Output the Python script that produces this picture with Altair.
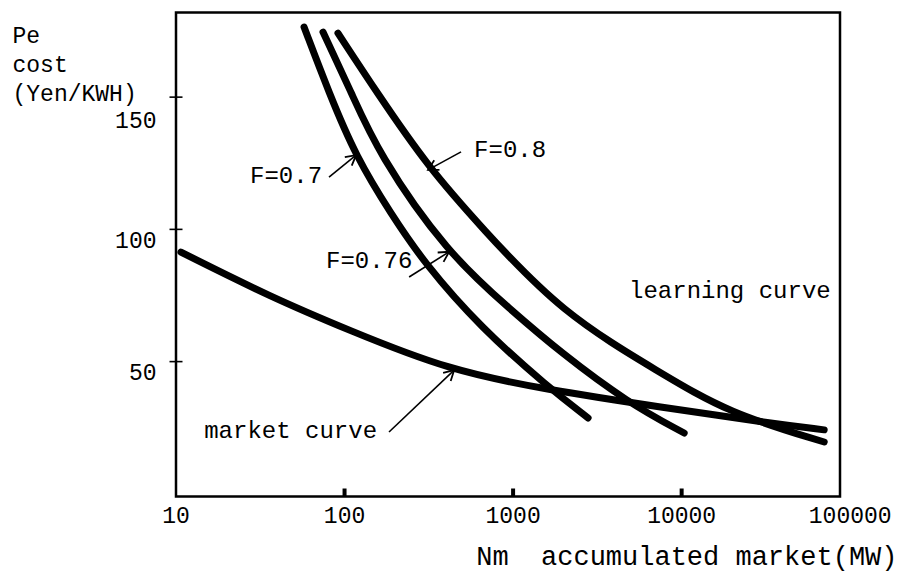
import math
import altair as alt
import pandas as pd

FONT = "Liberation Mono"

# scale ranges (log x, linear y)
X_MIN, X_MAX = 10, 87000
Y_MIN, Y_MAX = -1, 182
PLOT_W, PLOT_H = 664, 484

x_label_values = [10, 100, 1000, 10000, 100000]
x_tick_marks = [100, 1000, 10000]
y_tick_values = [50, 100, 150]

# learning curves and market curve
f07_x = [57.5, 80.9, 117, 189, 296.6, 646, 1614, 2786]
f07_y = [176.5, 151.6, 127.4, 105.8, 87.3, 62.7, 40.4, 28.7]

f076_x = [74.5, 110, 158, 405, 973, 1928, 4820, 10350]
f076_y = [174.6, 151.6, 128.9, 91.1, 69.5, 53.3, 34.4, 23.0]

f08_x = [91.4, 156, 313, 646, 1928, 7550, 18900, 70100]
f08_y = [174.2, 151.6, 123.6, 100.9, 68.4, 45.7, 30.6, 19.6]

market_x = [10.7, 36.6, 105, 411, 1614, 7550, 29650, 70100]
market_y = [91.4, 74.4, 62.0, 46.8, 39.3, 32.8, 27.2, 24.2]

# annotations
ann_labels = ["F=0.7", "F=0.8", "F=0.76", "market curve", "learning curve"]
ann_x = [27.5, 587, 77.6, 14.7, 4875]
ann_y = [117.5, 127.4, 85.4, 21.1, 74.1]

arrow_tail_x = [80.9, 491, 241.6, 183.6]
arrow_tail_y = [119.8, 129.3, 82.0, 23.4]
arrow_head_x = [117, 313, 417, 447]
arrow_head_y = [128.1, 122.5, 91.5, 46.8]

rows = []
for name, xs, ys in [("F=0.7", f07_x, f07_y), ("F=0.76", f076_x, f076_y),
                     ("F=0.8", f08_x, f08_y), ("market", market_x, market_y)]:
    for a, b in zip(xs, ys):
        rows.append({"series": name, "x": a, "y": b})
curves = pd.DataFrame(rows)


def to_px(x, y):
    lx = (math.log10(x) - math.log10(X_MIN)) / (math.log10(X_MAX) - math.log10(X_MIN)) * PLOT_W
    ly = (Y_MAX - y) / (Y_MAX - Y_MIN) * PLOT_H
    return lx, ly


angles = []
for tx, ty, hx, hy in zip(arrow_tail_x, arrow_tail_y, arrow_head_x, arrow_head_y):
    p1 = to_px(tx, ty)
    p2 = to_px(hx, hy)
    angles.append(math.degrees(math.atan2(p2[1] - p1[1], p2[0] - p1[0])) % 360)

arrows = pd.DataFrame({"x": arrow_tail_x, "y": arrow_tail_y,
                       "x2": arrow_head_x, "y2": arrow_head_y, "angle": angles})
heads = pd.DataFrame({"x": arrow_head_x, "y": arrow_head_y, "angle": angles})
ann = pd.DataFrame({"x": ann_x, "y": ann_y, "label": ann_labels})
xlab = pd.DataFrame({"x": x_label_values, "y": [Y_MIN] * len(x_label_values),
                     "label": [str(v) for v in x_label_values]})
xticks = pd.DataFrame({"x": x_tick_marks, "y": [Y_MIN] * len(x_tick_marks)})
yticks = pd.DataFrame({"x": [X_MIN] * len(y_tick_values), "y": y_tick_values})

xscale = alt.Scale(type="log", domain=[X_MIN, X_MAX], nice=False)
yscale = alt.Scale(domain=[Y_MIN, Y_MAX], nice=False, zero=False)

x_axis = alt.Axis(
    labels=False, ticks=False, domain=False, grid=False,
    title="Nm\u00a0\u00a0accumulated market(MW)",
    titleFont=FONT, titleFontSize=27, titleFontWeight="normal", titleColor="black",
    titleAlign="right", titleBaseline="alphabetic", titleX=721, titleY=68,
)
y_axis = alt.Axis(
    values=y_tick_values, ticks=False, domain=False, grid=False,
    labelFont=FONT, labelFontSize=23, labelColor="black", labelPadding=20,
    labelBaseline="middle",
    labelOffset={"condition": {"test": "datum.value == 150", "value": 23}, "value": 11},
    title=["\u00a0Pe", "\u00a0cost", "(Yen/KWH)"],
    titleFont=FONT, titleFontSize=23, titleFontWeight="normal", titleColor="black",
    titleAngle=0, titleAlign="left", titleBaseline="alphabetic",
    titleX=-164, titleY=29.5, titleLineHeight=29,
)

lines = alt.Chart(curves).mark_line(
    color="black", strokeWidth=7, strokeCap="round", strokeJoin="round",
    interpolate="basis",
).encode(
    x=alt.X("x:Q", scale=xscale, axis=x_axis),
    y=alt.Y("y:Q", scale=yscale, axis=y_axis),
    detail="series:N",
)

rules = alt.Chart(arrows).mark_rule(color="black", strokeWidth=1.6).encode(
    x=alt.X("x:Q", scale=xscale), y=alt.Y("y:Q", scale=yscale),
    x2="x2:Q", y2="y2:Q",
)

arrowheads = alt.Chart(heads).mark_point(
    shape="M-1,-0.55L0,0L-1,0.55", filled=False, size=400,
    color="black", strokeWidth=1.8, opacity=1,
).encode(
    x=alt.X("x:Q", scale=xscale), y=alt.Y("y:Q", scale=yscale),
    angle=alt.Angle("angle:Q", scale=None),
)

texts = alt.Chart(ann).mark_text(
    font=FONT, fontSize=24, align="left", baseline="alphabetic", color="black",
).encode(
    x=alt.X("x:Q", scale=xscale), y=alt.Y("y:Q", scale=yscale), text="label:N",
)

xlabels = alt.Chart(xlab).mark_text(
    font=FONT, fontSize=23, align="center", baseline="top", dy=8, color="black",
).encode(
    x=alt.X("x:Q", scale=xscale), y=alt.Y("y:Q", scale=yscale), text="label:N",
)

xtickmarks = alt.Chart(xticks).mark_tick(
    orient="vertical", size=8, thickness=4, yOffset=-4, color="black", opacity=1,
).encode(x=alt.X("x:Q", scale=xscale), y=alt.Y("y:Q", scale=yscale))

ytickmarks = alt.Chart(yticks).mark_tick(
    orient="horizontal", size=13, thickness=1.6, color="black", opacity=1,
).encode(x=alt.X("x:Q", scale=xscale), y=alt.Y("y:Q", scale=yscale))

chart = alt.layer(
    lines, rules, arrowheads, texts, xlabels, xtickmarks, ytickmarks
).properties(
    width=PLOT_W, height=PLOT_H,
    background="white",
    autosize=alt.AutoSizeParams(type="none"),
    padding={"left": 168, "top": 4.5, "right": 58, "bottom": 76},
).configure_view(
    stroke="black", strokeWidth=2.5,
)

chart.save("out.html", embed_options={"renderer": "svg", "actions": False})
